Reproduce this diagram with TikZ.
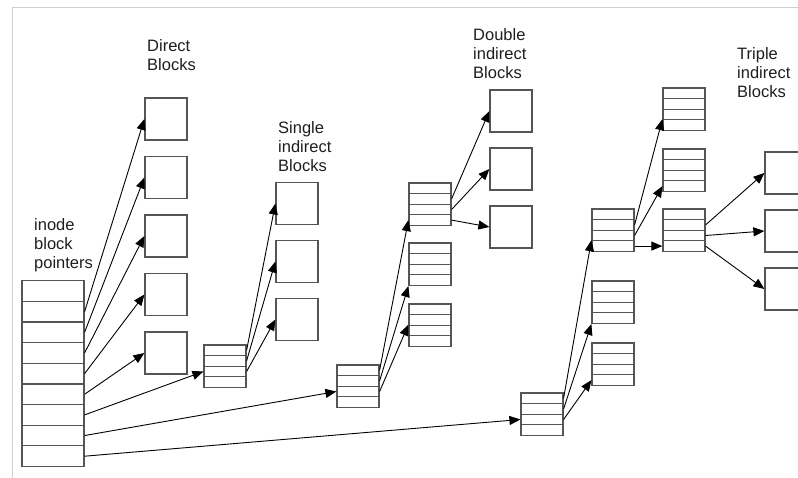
\documentclass[tikz,border=0pt]{standalone}
\usepackage{fontspec}
\usepackage{xcolor}
\usepackage{tikz}
\usetikzlibrary{arrows.meta}
\newfontfamily\lblfont{Liberation Sans}
\definecolor{boxgray}{HTML}{555555}
\definecolor{framegray}{HTML}{CFCFCF}
\definecolor{txtgray}{HTML}{1E1E1E}

% stack of four pointer rows: name, x centre, top y
\newcommand{\ptrstack}[3]{%
  \foreach \r in {1,...,4}
    \node[prow] (#1\r) at (#2, #3+10.6*\r-5.3) {};
}

\begin{document}
\begin{tikzpicture}[x=1pt, y=-1pt,
  cell/.style={draw=boxgray, line width=1.2pt, minimum width=62pt,
    minimum height=20.65pt, inner sep=0pt},
  prow/.style={draw=boxgray, line width=1.2pt, minimum width=42pt,
    minimum height=10.6pt, inner sep=0pt},
  blk/.style={draw=boxgray, line width=1.2pt, minimum size=42pt, inner sep=0pt},
  lbl/.style={font=\lblfont\fontsize{16.5}{19}\selectfont, text=txtgray,
    align=left, anchor=base west, inner sep=0pt},
  ptr/.style={-{Triangle[length=11pt, width=9pt]}, line width=0.9pt},
]
  \path[use as bounding box, clip] (0,0) rectangle (798,478);
  \draw[framegray, line width=1pt] (12,478) -- (12,8) -- (798,8);

  % labels (anchored at the last baseline)
  \node[lbl] (lblinode) at (34,269) {inode\\block\\pointers};
  \node[lbl] (lbldirect) at (147,71) {Direct\\Blocks};
  \node[lbl] (lblsingle) at (278,172) {Single\\indirect\\Blocks};
  \node[lbl] (lbldouble) at (473,79) {Double\\indirect\\Blocks};
  \node[lbl] (lbltriple) at (737,98) {Triple\\indirect\\Blocks};

  % inode and direct blocks
  \foreach \i in {1,...,9}
    \node[cell] (ino\i) at (53, 270.35+20.65*\i) {};
  \foreach \i in {1,...,5}
    \node[blk] (dir\i) at (166, 60.5+58.5*\i) {};
  \foreach \i/\j in {1/2,2/3,3/4,4/5,5/6}
    \draw[ptr] (ino\j.east) -- (dir\i.west);

  % single indirect
  \ptrstack{sip}{225}{345}
  \foreach \i in {1,2,3}
    \node[blk] (sgl\i) at (297, 145.5+58*\i) {};
  \draw[ptr] (ino7.east) -- (sip3.west);
  \foreach \i in {1,2,3}
    \draw[ptr] (sip\i.east) -- (sgl\i.west);

  % double indirect
  \ptrstack{dip}{358}{365}
  \ptrstack{dia}{430}{183}
  \ptrstack{dib}{430}{243}
  \ptrstack{dic}{430}{304}
  \foreach \i in {1,2,3}
    \node[blk] (dbl\i) at (511, 53+58*\i) {};
  \draw[ptr] (ino8.east) -- (dip3.west);
  \draw[ptr] (dip1.east) -- (dia4.west);
  \draw[ptr] (dip2.east) -- (dib4.south west);
  \draw[ptr] (dip3.east) -- (dic3.north west);
  \foreach \i/\j in {1/2,2/3,3/4}
    \draw[ptr] (dia\j.east) -- (dbl\i.west);

  % triple indirect
  \ptrstack{tip}{542}{393}
  \ptrstack{tma}{613}{209}
  \ptrstack{tmb}{613}{281}
  \ptrstack{tmc}{613}{343}
  \ptrstack{tla}{684}{88}
  \ptrstack{tlb}{684}{149}
  \ptrstack{tlc}{684}{209}
  \foreach \i in {1,2,3}
    \node[blk] (trp\i) at (786, 115+58*\i) {};
  \draw[ptr] (ino9.east) -- (tip3.west);
  \draw[ptr] (tip1.east) -- (tma4.north west);
  \draw[ptr] (tip2.east) -- (tmb4.south west);
  \draw[ptr] (tip3.east) -- (tmc4.west);
  \draw[ptr] (tma2.east) -- (tla4.north west);
  \draw[ptr] (tma3.east) -- (tlb4.west);
  \draw[ptr] (tma4.east) -- (tlc4.west);
  \foreach \i/\j in {1/2,2/3,3/4}
    \draw[ptr] (tlc\j.east) -- (trp\i.west);
\end{tikzpicture}
\end{document}
